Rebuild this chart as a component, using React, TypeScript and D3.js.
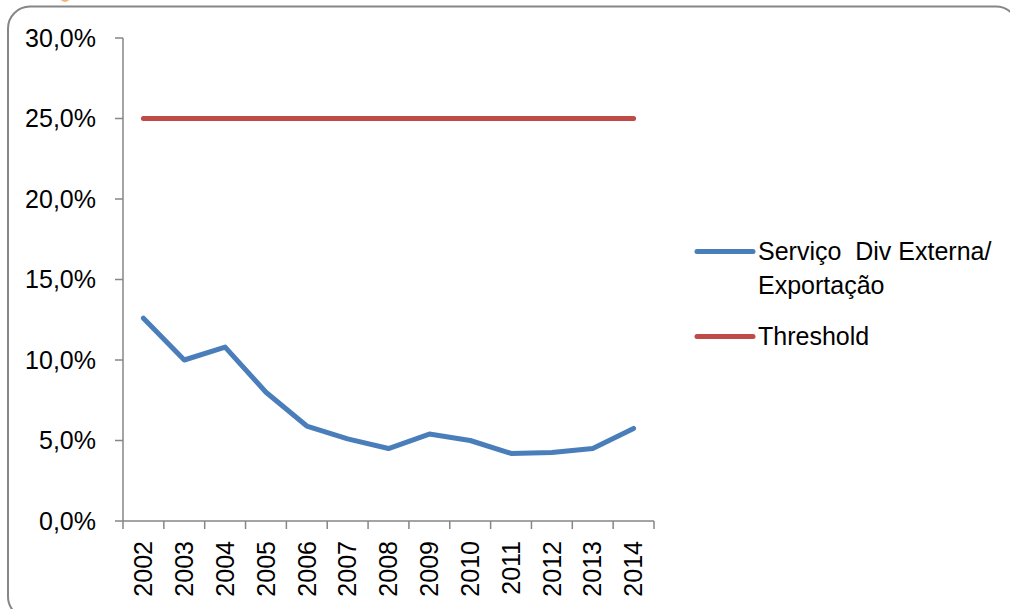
import React, { useRef, useEffect } from 'react';
import * as d3 from 'd3';

const years = ['2002', '2003', '2004', '2005', '2006', '2007', '2008', '2009', '2010', '2011', '2012', '2013', '2014'];
const servico = [12.6, 10.0, 10.8, 8.0, 5.9, 5.1, 4.5, 5.4, 5.0, 4.2, 4.25, 4.5, 5.75];
const threshold = [25, 25, 25, 25, 25, 25, 25, 25, 25, 25, 25, 25, 25];
const yTicks = [0, 5, 10, 15, 20, 25, 30];
const seriesNames = ['Serviço  Div Externa/', 'Exportação', 'Threshold'];

const FONT = "'Liberation Sans', Arial, sans-serif";
const AXIS = '#868686';

const App = () => {
  const svgRef = useRef<SVGSVGElement>(null);

  useEffect(() => {
    const svg = d3.select(svgRef.current);
    svg.selectAll('*').remove();

    const width = 1010;
    const height = 609;

    // frame (cropped on the right and bottom)
    svg.append('rect')
      .attr('x', 8).attr('y', 6.5)
      .attr('width', 1010).attr('height', 612)
      .attr('rx', 22).attr('ry', 22)
      .style('fill', '#fff')
      .style('stroke', AXIS)
      .style('stroke-width', 2);
    // bit of an orange mark cut off at the top edge
    svg.append('circle')
      .attr('cx', 65).attr('cy', -3).attr('r', 5)
      .style('fill', '#f7b27a');

    const left = 123, right = 654, top = 38, bottom = 521;

    const x = d3.scaleBand().domain(years).range([left, right]);
    const y = d3.scaleLinear().domain([0, 30]).range([bottom, top]);

    const fmt = (v: number) => v.toFixed(1).replace('.', ',') + '%';

    // y axis
    const yAxis = svg.append('g');
    yAxis.append('line')
      .attr('x1', left).attr('x2', left)
      .attr('y1', y(30)).attr('y2', y(0))
      .style('stroke', AXIS).style('stroke-width', 1.5);
    yAxis.selectAll('line.tick').data(yTicks).enter().append('line')
      .attr('class', 'tick')
      .attr('x1', left - 8).attr('x2', left)
      .attr('y1', (d) => y(d)).attr('y2', (d) => y(d))
      .style('stroke', AXIS).style('stroke-width', 1.5);
    yAxis.selectAll('text').data(yTicks).enter().append('text')
      .attr('x', 96).attr('y', (d) => y(d)).attr('dy', '0.35em')
      .attr('text-anchor', 'end')
      .style('font-family', FONT).style('font-size', 25).style('fill', '#000')
      .text((d) => fmt(d));

    // x axis
    const xAxis = svg.append('g');
    xAxis.append('line')
      .attr('x1', left).attr('x2', right)
      .attr('y1', bottom).attr('y2', bottom)
      .style('stroke', AXIS).style('stroke-width', 1.5);
    const edges = years.map((d) => x(d) as number).concat([right]);
    xAxis.selectAll('line.tick').data(edges).enter().append('line')
      .attr('class', 'tick')
      .attr('x1', (d) => d).attr('x2', (d) => d)
      .attr('y1', bottom).attr('y2', bottom + 8)
      .style('stroke', AXIS).style('stroke-width', 1.5);
    xAxis.selectAll('text').data(years).enter().append('text')
      .attr('transform', (d) => `translate(${(x(d) as number) + x.bandwidth() / 2}, 541) rotate(-90)`)
      .attr('dy', '0.35em')
      .attr('text-anchor', 'end')
      .style('font-family', FONT).style('font-size', 25).style('fill', '#000')
      .text((d) => d);

    const cx = (i: number) => (x(years[i]) as number) + x.bandwidth() / 2;
    const line = d3.line<number>().x((d, i) => cx(i)).y((d) => y(d));

    svg.append('path')
      .attr('d', line(threshold))
      .style('fill', 'none').style('stroke', '#be4b48')
      .style('stroke-width', 5).style('stroke-linecap', 'round').style('stroke-linejoin', 'round');

    svg.append('path')
      .attr('d', line(servico))
      .style('fill', 'none').style('stroke', '#4a7ebb')
      .style('stroke-width', 5).style('stroke-linecap', 'round').style('stroke-linejoin', 'round');

    // legend
    const legend = svg.append('g');
    const items = [
      { color: '#4a7ebb', ly: 251.5, lines: [seriesNames[0], seriesNames[1]] },
      { color: '#be4b48', ly: 336.5, lines: [seriesNames[2]] },
    ];
    items.forEach((it) => {
      legend.append('line')
        .attr('x1', 697).attr('x2', 753)
        .attr('y1', it.ly).attr('y2', it.ly)
        .style('stroke', it.color).style('stroke-width', 5).style('stroke-linecap', 'round');
      it.lines.forEach((t, j) => {
        legend.append('text')
          .attr('x', 758).attr('y', it.ly + 8.5 + j * 34)
          .style('font-family', FONT).style('font-size', 25).style('fill', '#000')
          .style('white-space', 'pre')
          .text(t);
      });
    });

    svg.attr('width', width).attr('height', height);
  }, []);

  return (
    <svg ref={svgRef} width={1010} height={609} style={{ position: 'absolute', left: 0, top: 0, background: '#fff' }} />
  );
};

export default App;
